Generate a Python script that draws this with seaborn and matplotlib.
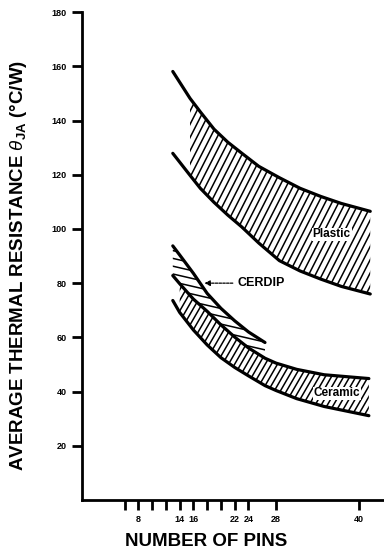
import numpy as np
import matplotlib
matplotlib.use('Agg')
import matplotlib.pyplot as plt
from matplotlib.collections import LineCollection
from matplotlib.transforms import IdentityTransform
import seaborn as sns

# values (number of pins vs theta_JA in C/W)
plastic_pins = [13, 15.5, 17, 19, 21, 23, 25.5, 28.5, 31.5, 34.5, 37.5, 41.7]
plastic_upper = [158.1, 148.2, 143.2, 136.8, 132.0, 128.0, 123.1, 118.9, 115.0, 112.0, 109.4, 106.5]
plastic_lower = [127.9, 119.8, 115.0, 109.8, 105.1, 100.8, 94.8, 88.3, 84.5, 81.5, 78.8, 76.0]

ceramic_pins = [13, 14, 16, 18, 20, 22, 24, 26.4, 28, 31, 35, 41.5]
ceramic_upper = [82.8, 79.8, 74.1, 69.6, 64.6, 60.1, 56.1, 52.3, 50.5, 48.2, 46.2, 44.8]
ceramic_lower = [73.6, 69.2, 62.7, 57.2, 52.5, 48.9, 45.8, 42.2, 40.4, 37.4, 34.5, 31.1]

cerdip_pins = [13, 14, 16, 18, 20, 22, 24, 26.4]
cerdip_upper = [93.75, 90.4, 83.6, 76.2, 70.7, 66.1, 62.0, 58.1]

xticks = [6, 8, 10, 12, 14, 16, 18, 20, 22, 24, 28, 40]
xticklabels = ['', '8', '', '', '14', '16', '', '', '22', '24', '28', '40']
yticks = [20, 40, 60, 80, 100, 120, 140, 160, 180]

sns.set_style('ticks')
plt.rcParams['font.family'] = ['Liberation Sans', 'DejaVu Sans']
plt.rcParams['mathtext.fontset'] = 'custom'
plt.rcParams['mathtext.sf'] = 'Liberation Sans:bold'
plt.rcParams['mathtext.it'] = 'Liberation Sans:italic'
plt.rcParams['mathtext.rm'] = 'Liberation Sans:bold'
for key in ['text.color', 'axes.labelcolor', 'xtick.color', 'ytick.color', 'axes.edgecolor']:
    plt.rcParams[key] = 'black'

fig = plt.figure(figsize=(3.84, 5.51), dpi=100)
ax = fig.add_axes([0.2135, 0.0926, 0.7865, 0.8854])
ax.set_xlim(-0.2, 43.7)
ax.set_ylim(0, 180)


def hatch_band(ax, x, lo, hi, angle, spacing, lw=1.1):
    # draw slanted hatch lines (in pixels) clipped to the band
    poly = ax.fill_between(x, lo, hi, facecolor='none', lw=0)
    W, H = fig.bbox.width, fig.bbox.height
    a = np.deg2rad(angle)
    d = np.array([np.cos(a), np.sin(a)])
    nrm = np.array([-np.sin(a), np.cos(a)])
    R = np.hypot(W, H)
    segs = [[nrm * t - d * R, nrm * t + d * R] for t in np.arange(-R, R, spacing)]
    lc = LineCollection(segs, colors='black', linewidths=lw, transform=IdentityTransform())
    ax.add_collection(lc, autolim=False)
    lc.set_clip_path(poly.get_paths()[0], ax.transData)


lw = 2.3
hatch_band(ax, plastic_pins[1:], plastic_lower[1:], plastic_upper[1:], 63, 6.0)
n = len(cerdip_pins)
hatch_band(ax, cerdip_pins, ceramic_upper[:n], cerdip_upper, -13, 7.6)
hatch_band(ax, ceramic_pins[1:], ceramic_lower[1:], ceramic_upper[1:], 60, 5.3)

for xs, ys in [(plastic_pins, plastic_upper), (plastic_pins, plastic_lower),
               (cerdip_pins, cerdip_upper), (ceramic_pins, ceramic_upper),
               (ceramic_pins, ceramic_lower)]:
    sns.lineplot(x=xs, y=ys, ax=ax, color='black', lw=lw, solid_capstyle='round')

ax.text(36.1, 98, 'Plastic', fontsize=8.5, fontweight='bold', ha='center', va='center',
        bbox=dict(facecolor='white', edgecolor='none', pad=0.6))
ax.text(36.9, 39.3, 'Ceramic', fontsize=8.5, fontweight='bold', ha='center', va='center',
        bbox=dict(facecolor='white', edgecolor='none', pad=0.6))
ax.annotate('CERDIP', xy=(17.6, 80), xytext=(22.4, 80), fontsize=9, fontweight='bold',
            ha='left', va='center',
            arrowprops=dict(arrowstyle='-|>', color='black', lw=0.9, linestyle=(0, (2, 1)),
                            shrinkA=1, shrinkB=0, mutation_scale=8))

ax.set_xticks(xticks)
ax.set_xticklabels(xticklabels)
ax.set_yticks(yticks)
ax.tick_params(axis='both', direction='out', length=7, width=2, labelsize=6.5, pad=4)
for lab in ax.get_xticklabels() + ax.get_yticklabels():
    lab.set_fontweight('bold')

sns.despine(ax=ax)
ax.spines['left'].set_linewidth(2)
ax.spines['bottom'].set_linewidth(2)

ax.set_ylabel(r'AVERAGE THERMAL RESISTANCE $\mathit{\theta}_{\mathsf{JA}}$ (°C/W)',
              fontsize=13.5, fontweight='bold')
ax.yaxis.set_label_coords(-0.175, 0.48)
ax.set_xlabel('NUMBER OF PINS', fontsize=13.5, fontweight='bold')
ax.xaxis.set_label_coords(0.41, -0.068)

fig.savefig('out.png', dpi=100)
